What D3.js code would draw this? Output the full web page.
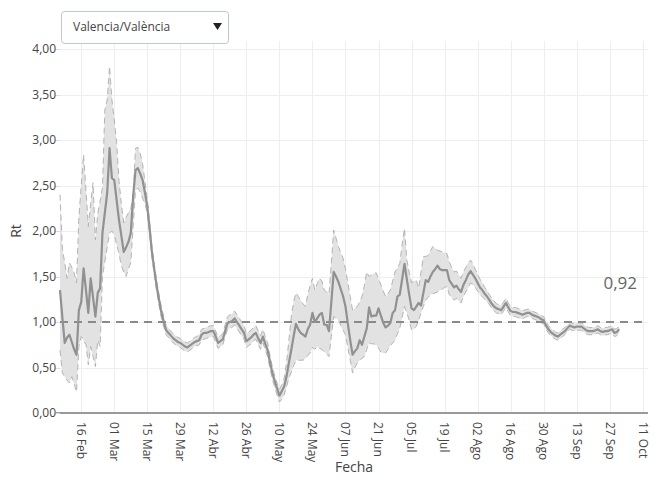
<!DOCTYPE html>
<html>
<head>
<meta charset="utf-8">
<script src="https://cdn.jsdelivr.net/npm/d3@7"></script>
<style>
  html, body { margin: 0; padding: 0; background: #fff; }
  svg { display: block; font-family: "Open Sans", "Noto Sans", sans-serif; }
</style>
</head>
<body>
<svg id="chart" width="660" height="486"></svg>
<script>
// ---- data ----
const region = "Valencia/València";
const startDate = "2020-02-07"; // first daily estimate
const rt = [
  1.35,1.05,0.77,0.83,0.86,0.78,0.70,0.64,1.13,1.22,
  1.59,1.35,1.10,1.48,1.27,1.06,1.32,1.37,1.98,2.20,
  2.42,2.91,2.58,2.56,2.34,2.12,1.95,1.77,1.82,1.88,
  1.98,2.38,2.67,2.69,2.63,2.56,2.42,2.27,2.02,1.76,
  1.57,1.39,1.24,1.10,1.00,0.91,0.88,0.85,0.82,0.80,
  0.78,0.77,0.75,0.73,0.72,0.74,0.76,0.78,0.79,0.80,
  0.86,0.88,0.88,0.89,0.90,0.90,0.84,0.77,0.79,0.81,
  0.90,0.99,1.00,1.01,1.04,1.00,0.96,0.92,0.88,0.79,
  0.81,0.83,0.86,0.88,0.82,0.77,0.84,0.76,0.69,0.56,
  0.44,0.35,0.27,0.19,0.24,0.29,0.40,0.55,0.69,0.84,
  0.98,0.92,0.88,0.86,0.84,0.92,0.97,1.10,1.00,1.04,
  1.08,1.10,0.97,0.97,0.90,1.22,1.55,1.50,1.44,1.36,
  1.28,1.17,0.98,0.80,0.64,0.68,0.71,0.80,0.75,0.84,
  0.93,1.16,1.06,1.07,1.07,1.15,1.07,0.99,0.94,0.96,
  0.99,1.10,1.13,1.28,1.30,1.47,1.64,1.47,1.30,1.15,
  1.13,1.17,1.21,1.18,1.32,1.46,1.44,1.50,1.55,1.58,
  1.62,1.58,1.57,1.57,1.57,1.46,1.42,1.38,1.40,1.36,
  1.33,1.41,1.46,1.52,1.56,1.52,1.48,1.43,1.38,1.35,
  1.31,1.28,1.24,1.20,1.17,1.15,1.14,1.13,1.17,1.21,
  1.16,1.12,1.11,1.11,1.10,1.09,1.08,1.09,1.10,1.10,
  1.08,1.07,1.06,1.05,1.03,1.02,0.96,0.92,0.89,0.87,
  0.85,0.84,0.86,0.88,0.90,0.93,0.96,0.95,0.94,0.95,
  0.95,0.95,0.93,0.91,0.90,0.90,0.90,0.91,0.92,0.90,
  0.89,0.90,0.90,0.91,0.92,0.88,0.89,0.92
];
const rtHigh = [
  2.40,1.81,1.65,1.48,1.65,1.60,1.54,1.43,2.15,2.50,
  2.84,2.45,2.05,2.30,2.53,1.90,2.19,2.33,2.48,3.33,
  3.44,3.81,3.44,3.22,2.97,2.55,2.30,2.09,2.15,2.20,
  2.25,2.38,2.91,2.92,2.85,2.74,2.54,2.35,2.09,1.82,
  1.63,1.45,1.30,1.16,1.06,0.96,0.93,0.90,0.87,0.85,
  0.83,0.82,0.80,0.78,0.77,0.79,0.81,0.83,0.84,0.86,
  0.92,0.93,0.94,0.95,0.96,0.96,0.90,0.83,0.85,0.87,
  0.97,1.06,1.08,1.09,1.12,1.08,1.04,1.00,0.96,0.87,
  0.89,0.91,0.94,0.96,0.90,0.85,0.92,0.84,0.77,0.63,
  0.51,0.41,0.33,0.26,0.31,0.38,0.55,0.80,1.05,1.22,
  1.32,1.28,1.24,1.20,1.17,1.30,1.40,1.48,1.35,1.42,
  1.48,1.45,1.35,1.33,1.30,1.65,2.01,1.92,1.83,1.76,
  1.70,1.58,1.43,1.28,1.13,1.15,1.17,1.22,1.28,1.40,
  1.55,1.50,1.52,1.53,1.54,1.47,1.41,1.34,1.28,1.31,
  1.35,1.45,1.55,1.60,1.64,1.85,2.03,1.68,1.55,1.43,
  1.45,1.46,1.37,1.55,1.72,1.72,1.73,1.78,1.83,1.81,
  1.79,1.78,1.77,1.76,1.75,1.66,1.60,1.55,1.56,1.52,
  1.48,1.55,1.60,1.65,1.68,1.64,1.58,1.53,1.47,1.43,
  1.38,1.35,1.30,1.26,1.23,1.20,1.19,1.18,1.22,1.26,
  1.21,1.17,1.16,1.16,1.15,1.14,1.13,1.13,1.14,1.14,
  1.12,1.11,1.10,1.09,1.07,1.06,1.00,0.96,0.93,0.91,
  0.89,0.88,0.90,0.92,0.94,0.97,1.00,0.99,0.98,0.99,
  0.99,0.99,0.97,0.95,0.94,0.94,0.94,0.95,0.96,0.94,
  0.93,0.94,0.94,0.95,0.96,0.92,0.93,0.96
];
const rtLow = [
  0.69,0.44,0.40,0.36,0.33,0.40,0.32,0.23,0.73,0.84,
  0.80,0.75,0.53,0.73,0.62,0.51,0.80,0.73,1.50,1.66,
  1.82,1.98,2.00,1.96,1.85,1.75,1.62,1.55,1.50,1.58,
  1.65,2.05,2.45,2.47,2.43,2.36,2.30,2.19,1.95,1.70,
  1.51,1.33,1.18,1.04,0.94,0.86,0.83,0.80,0.77,0.75,
  0.73,0.72,0.70,0.68,0.67,0.69,0.71,0.73,0.74,0.75,
  0.80,0.81,0.82,0.83,0.84,0.84,0.78,0.71,0.73,0.75,
  0.84,0.92,0.93,0.94,0.97,0.93,0.89,0.85,0.81,0.72,
  0.74,0.76,0.79,0.81,0.75,0.70,0.77,0.69,0.62,0.49,
  0.37,0.28,0.20,0.12,0.15,0.20,0.29,0.38,0.45,0.52,
  0.58,0.58,0.58,0.58,0.60,0.63,0.66,0.72,0.70,0.73,
  0.71,0.70,0.67,0.65,0.62,0.84,1.06,1.04,1.02,0.96,
  0.91,0.86,0.72,0.58,0.44,0.50,0.55,0.58,0.60,0.62,
  0.70,0.77,0.76,0.76,0.75,0.71,0.67,0.66,0.66,0.70,
  0.74,0.77,0.80,0.87,0.93,1.05,1.17,1.10,1.02,0.91,
  0.93,0.95,1.02,1.10,1.17,1.24,1.27,1.30,1.31,1.32,
  1.33,1.35,1.36,1.38,1.39,1.30,1.27,1.24,1.26,1.23,
  1.21,1.28,1.33,1.38,1.43,1.41,1.38,1.34,1.30,1.28,
  1.25,1.22,1.19,1.15,1.12,1.10,1.09,1.08,1.12,1.16,
  1.11,1.07,1.06,1.06,1.05,1.04,1.03,1.05,1.06,1.06,
  1.04,1.03,1.02,1.01,0.99,0.98,0.92,0.88,0.85,0.83,
  0.81,0.80,0.82,0.84,0.86,0.89,0.92,0.91,0.90,0.91,
  0.91,0.91,0.89,0.87,0.86,0.86,0.86,0.87,0.88,0.86,
  0.85,0.86,0.86,0.87,0.88,0.84,0.85,0.88
];
const xTickDates = ["2020-02-16","2020-03-01","2020-03-15","2020-03-29","2020-04-12","2020-04-26",
  "2020-05-10","2020-05-24","2020-06-07","2020-06-21","2020-07-05","2020-07-19","2020-08-02",
  "2020-08-16","2020-08-30","2020-09-13","2020-09-27","2020-10-11"];
const xTickLabels = ["16 Feb","01 Mar","15 Mar","29 Mar","12 Abr","26 Abr","10 May","24 May",
  "07 Jun","21 Jun","05 Jul","19 Jul","02 Ago","16 Ago","30 Ago","13 Sep","27 Sep","11 Oct"];
const yTicks = [0, 0.5, 1, 1.5, 2, 2.5, 3, 3.5, 4];
const xDomain = ["2020-02-07T00:00:00Z", "2020-10-13T05:00:00Z"];
const refValue = 1;
const lastLabel = "0,92";

// ---- layout ----
const svg = d3.select("#chart");
const L = 60, R = 648, T = 49, B = 413;
const parse = s => new Date(s.length === 10 ? s + "T00:00:00Z" : s);
const x = d3.scaleUtc().domain(xDomain.map(parse)).range([L, R]);
const y = d3.scaleLinear().domain([0, 4]).range([B, T]);
const start = parse(startDate);
const data = rt.map((v, i) => ({ d: d3.utcDay.offset(start, i), v, lo: rtLow[i], hi: rtHigh[i] }));
const fmt = v => d3.format(".2f")(v).replace(".", ",");

// grid
const grid = svg.append("g").attr("stroke", "#eeeeee").attr("stroke-width", 1);
xTickDates.forEach(s => {
  const px = Math.round(x(parse(s))) + 0.5;
  grid.append("line").attr("x1", px).attr("x2", px).attr("y1", T - 8).attr("y2", B);
});
yTicks.forEach(t => {
  if (t === 0) return;
  const py = Math.round(y(t)) + 0.5;
  grid.append("line").attr("x1", L).attr("x2", R).attr("y1", py).attr("y2", py);
});

// band
const area = d3.area().x(d => x(d.d)).y0(d => y(d.lo)).y1(d => y(d.hi));
svg.append("path").datum(data).attr("d", area).attr("fill", "#e2e2e2").attr("stroke", "none");
const lineHi = d3.line().x(d => x(d.d)).y(d => y(d.hi));
const lineLo = d3.line().x(d => x(d.d)).y(d => y(d.lo));
[lineHi, lineLo].forEach(g => {
  svg.append("path").datum(data).attr("d", g).attr("fill", "none")
    .attr("stroke", "#b4b4b4").attr("stroke-width", 1).attr("stroke-dasharray", "6,4");
});

// reference line at 1
svg.append("line").attr("x1", L).attr("x2", R).attr("y1", y(refValue)).attr("y2", y(refValue))
  .attr("stroke", "#8a8a8a").attr("stroke-width", 2).attr("stroke-dasharray", "8,6");

// mean line
svg.append("path").datum(data).attr("d", d3.line().x(d => x(d.d)).y(d => y(d.v)))
  .attr("fill", "none").attr("stroke", "#919191").attr("stroke-width", 2.2)
  .attr("stroke-linejoin", "round");

// x axis line (zero line)
svg.append("line").attr("x1", L - 4).attr("x2", R).attr("y1", B).attr("y2", B)
  .attr("stroke", "#9a9a9a").attr("stroke-width", 2);

// y axis ticks/labels
const yAx = svg.append("g");
yTicks.forEach(t => {
  const py = y(t);
  yAx.append("line").attr("x1", L - 5).attr("x2", L).attr("y1", Math.round(py) + 0.5).attr("y2", Math.round(py) + 0.5)
    .attr("stroke", "#dddddd").attr("stroke-width", 1);
  yAx.append("text").attr("x", L - 4).attr("y", py).attr("dy", "0.35em")
    .attr("text-anchor", "end").attr("font-size", 12).attr("fill", "#444").text(fmt(t));
});

// x axis labels
xTickDates.forEach((s, i) => {
  const px = x(parse(s));
  svg.append("text").attr("transform", `translate(${px},${B + 9}) rotate(90)`)
    .attr("dy", "0.35em").attr("text-anchor", "start").attr("font-size", 12).attr("fill", "#444")
    .text(xTickLabels[i]);
});

// axis titles
svg.append("text").attr("x", (L + R) / 2).attr("y", 472).attr("text-anchor", "middle")
  .attr("font-size", 14).attr("fill", "#444").text("Fecha");
svg.append("text").attr("transform", `translate(21,${(T + B) / 2}) rotate(-90)`)
  .attr("text-anchor", "middle").attr("font-size", 14).attr("fill", "#444").text("Rt");

// last value annotation
const last = data[data.length - 1];
svg.append("text").attr("x", 637).attr("y", y(1.43)).attr("dy", "0.35em").attr("text-anchor", "end")
  .attr("font-size", 17).attr("fill", "#666").text(lastLabel);

// dropdown
const dd = svg.append("g");
dd.append("rect").attr("x", 61.5).attr("y", 11.5).attr("width", 167).attr("height", 32).attr("rx", 3)
  .attr("fill", "#fff").attr("stroke", "#bcc6d6").attr("stroke-width", 1);
dd.append("text").attr("x", 73).attr("y", 27).attr("dy", "0.35em").attr("font-size", 12)
  .attr("fill", "#444").text(region);
dd.append("path").attr("d", "M213,23 L222,23 L217.5,30 Z").attr("fill", "#222");
</script>
</body>
</html>
